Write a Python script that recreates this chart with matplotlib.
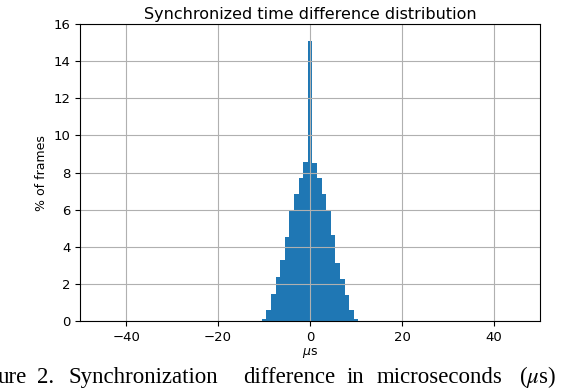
import numpy as np
import matplotlib.pyplot as plt

# Histogram of synchronized time difference (1 us bins centred on integers)
bin_centers = np.arange(-10, 11)
pct_frames = [0.13, 0.61, 1.46, 2.37, 3.27, 4.51, 5.97, 6.82, 7.73, 8.58,
              15.09,
              8.53, 7.72, 6.83, 5.94, 4.62, 3.15, 2.27, 1.38, 0.61, 0.13]
bin_edges = np.arange(-10.5, 11.5, 1.0)

caption_words = ["ure", "2.", "Synchronization", "difference", "in",
                 "microseconds", r"($\mu$s)"]
caption_x = [-2, 37, 68, 243, 347, 377, 519]

fig = plt.figure(figsize=(5.72, 3.90), dpi=100)
ax = fig.add_axes([0.140, 0.177, 0.804, 0.761])

ax.hist(bin_centers, bins=bin_edges, weights=pct_frames, color='#1f77b4')
ax.grid(True, color='#b0b0b0', linewidth=0.8)
ax.set_xlim(-50, 50)
ax.set_ylim(0, 16)
ax.set_xticks([-40, -20, 0, 20, 40])
ax.set_xticklabels(['−40', '−20', '0', '20', '40'])
ax.tick_params(labelsize=9.5)
ax.set_title('Synchronized time difference distribution', fontsize=11.5, pad=4)
ax.set_xlabel(r'$\mu$s', fontsize=9, labelpad=2)
ax.set_ylabel('% of frames', fontsize=9)

# figure caption (cropped at the left edge, justified words)
for word, x in zip(caption_words, caption_x):
    fig.text(x / 572, 1 - 383 / 390, word, fontsize=16.5,
             family='Liberation Serif', math_fontfamily='stix',
             va='baseline', ha='left')

fig.savefig('out.png', dpi=100)
